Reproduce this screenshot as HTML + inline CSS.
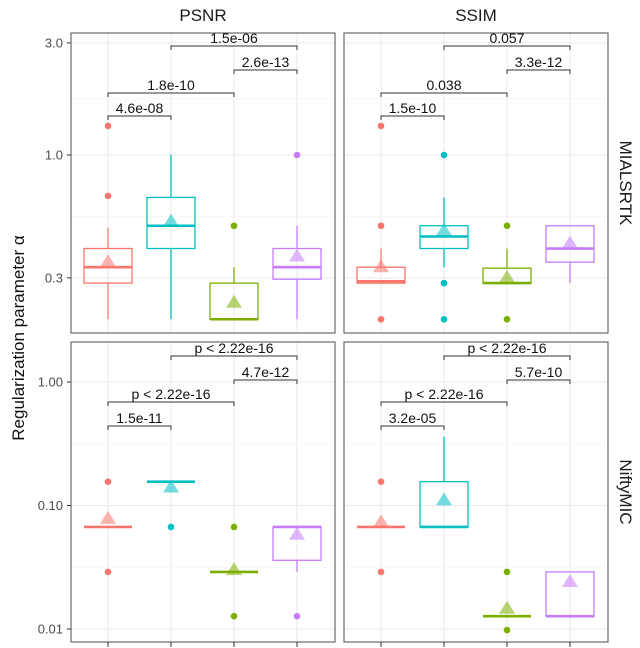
<!DOCTYPE html>
<html><head><meta charset="utf-8"><style>
html,body{margin:0;padding:0;background:#fff;}
svg{display:block;font-family:"Liberation Sans",sans-serif;}
</style></head><body>
<svg id="chart" width="640" height="648" viewBox="0 0 640 648"></svg>
<script>
const groups = ["g1","g2","g3","g4"];
const colors = ["#F8766D","#00BFC4","#7CAE00","#C77CFF"];
const metrics = ["PSNR","SSIM"];
const methods = ["MIALSRTK","NiftyMIC"];
const topTicks = [3.0,1.0,0.3];
const topTickLabels = ["3.0","1.0","0.3"];
const botTicks = [1.0,0.1,0.01];
const botTickLabels = ["1.00","0.10","0.01"];
// per panel: [lowWhisker, Q1, median, Q3, highWhisker]
const statsMP = [[0.2,0.285,0.333,0.4,0.49],[0.2,0.4,0.5,0.66,1.0],[0.2,0.2,0.2,0.285,0.333],[0.2,0.296,0.333,0.4,0.5]];
const meansMP = [0.35,0.52,0.235,0.37];
const outMP = [[0.67,1.33],[],[0.5],[1.0]];
const statsMS = [[0.285,0.285,0.29,0.333,0.4],[0.333,0.4,0.45,0.5,0.66],[0.285,0.285,0.285,0.33,0.4],[0.285,0.35,0.4,0.5,0.5]];
const meansMS = [0.333,0.475,0.3,0.42];
const outMS = [[0.2,0.5,1.33],[0.2,0.285,1.0],[0.2,0.5],[]];
const statsNP = [[0.067,0.067,0.067,0.067,0.067],[0.156,0.156,0.156,0.156,0.156],[0.029,0.029,0.029,0.029,0.029],[0.029,0.036,0.067,0.067,0.067]];
const meansNP = [0.078,0.14,0.03,0.058];
const outNP = [[0.029,0.156],[0.067],[0.0127,0.067],[0.0127]];
const statsNS = [[0.067,0.067,0.067,0.067,0.067],[0.067,0.067,0.067,0.156,0.36],[0.0127,0.0127,0.0127,0.0127,0.0127],[0.0127,0.0127,0.0127,0.029,0.029]];
const meansNS = [0.073,0.11,0.0146,0.024];
const outNS = [[0.029,0.156],[],[0.0098,0.029],[]];
const pMP = ["4.6e-08","1.8e-10","2.6e-13","1.5e-06"];
const pMS = ["1.5e-10","0.038","3.3e-12","0.057"];
const pNP = ["1.5e-11","p < 2.22e-16","4.7e-12","p < 2.22e-16"];
const pNS = ["3.2e-05","p < 2.22e-16","5.7e-10","p < 2.22e-16"];
const pairs = [[0,1],[0,2],[2,3],[1,3]];

const NS="http://www.w3.org/2000/svg";
const svg=document.getElementById('chart');
function mk(tag,attrs,parent){const e=document.createElementNS(NS,tag);for(const k in attrs)e.setAttribute(k,attrs[k]);(parent||svg).appendChild(e);return e;}

const panelX=[71,344], panelW=264;
const panelY=[33,342], panelH=300;
const rowScale=[
 v=>155-235*Math.log10(v),
 v=>382-123.5*(Math.log10(v)-0)
];
const bracketY=[[116,93,70,46],[426,402,380,356]];
const data=[[ [statsMP,meansMP,outMP,pMP],[statsMS,meansMS,outMS,pMS] ],[ [statsNP,meansNP,outNP,pNP],[statsNS,meansNS,outNS,pNS] ]];
const xPos=(c,i)=>panelX[c]+37+63*i;

for(let r=0;r<2;r++){
 const y=rowScale[r];
 const ticks=r===0?topTicks:botTicks, tl=r===0?topTickLabels:botTickLabels;
 ticks.forEach((t,k)=>{
  const tx=mk('text',{x:63,y:y(t)+4.5,'text-anchor':'end','font-size':13,fill:'#4d4d4d'});
  tx.textContent=tl[k];
  
  
  mk('line',{x1:67,x2:71,y1:y(t),y2:y(t),stroke:'#333','stroke-width':1});
 });
 for(let c=0;c<2;c++){
  const g=mk('g',{});
  
  
  const x0=panelX[c], y0=panelY[r];
  mk('rect',{x:x0,y:y0,width:panelW,height:panelH,fill:'#fff'},g);
  for(let k=0;k<ticks.length;k++){
   const yy=y(ticks[k]);
   mk('line',{x1:x0,x2:x0+panelW,y1:yy,y2:yy,stroke:'#ebebeb','stroke-width':1.1},g);
   if(k<ticks.length-1){const ym=(yy+y(ticks[k+1]))/2;mk('line',{x1:x0,x2:x0+panelW,y1:ym,y2:ym,stroke:'#f3f3f3','stroke-width':0.6},g);}
  }
  for(let i=0;i<4;i++){const xx=xPos(c,i);mk('line',{x1:xx,x2:xx,y1:y0,y2:y0+panelH,stroke:'#ebebeb','stroke-width':1.1},g);}
  const [st,mn,out,pv]=data[r][c];
  for(let i=0;i<4;i++){
   const xx=xPos(c,i), col=colors[i], s=st[i], hw=24;
   const bg=mk('g',{},g);
   
   
   mk('line',{x1:xx,x2:xx,y1:y(s[0]),y2:y(s[1]),stroke:col,'stroke-width':1.3},bg);
   mk('line',{x1:xx,x2:xx,y1:y(s[3]),y2:y(s[4]),stroke:col,'stroke-width':1.3},bg);
   mk('rect',{x:xx-hw,y:y(s[3]),width:2*hw,height:Math.max(0,y(s[1])-y(s[3])),fill:'none',stroke:col,'stroke-width':1.3},bg);
   mk('line',{x1:xx-hw,x2:xx+hw,y1:y(s[2]),y2:y(s[2]),stroke:col,'stroke-width':2.6},bg);
   out[i].forEach(o=>{const ci=mk('circle',{cx:xx,cy:y(o),r:3.3,fill:col},bg);
    });
   const my=y(mn[i]);
   const tri=mk('polygon',{points:`${xx},${my-8} ${xx-8},${my+5} ${xx+8},${my+5}`,fill:col,'fill-opacity':0.55},bg);
   
   
  }
  pairs.forEach((p,k)=>{
   const a=xPos(c,p[0]), b=xPos(c,p[1]), by=bracketY[r][k];
   const bg=mk('g',{},g);
   
   
   mk('path',{d:`M${a},${by+4}V${by}H${b}V${by+4}`,fill:'none',stroke:'#333','stroke-width':1},bg);
   const t=mk('text',{x:(a+b)/2,y:by-3,'text-anchor':'middle','font-size':14,fill:'#111'},bg);
   t.textContent=pv[k];
  });
  mk('rect',{x:x0,y:y0,width:panelW,height:panelH,fill:'none',stroke:'#4d4d4d','stroke-width':1},g);
  if(r===1){for(let i=0;i<4;i++){const xx=xPos(c,i);mk('line',{x1:xx,x2:xx,y1:y0+panelH,y2:y0+panelH+5,stroke:'#333','stroke-width':1});}}
 }
}
metrics.forEach((m,c)=>{const t=mk('text',{x:panelX[c]+panelW/2,y:21,'text-anchor':'middle','font-size':17,fill:'#1a1a1a'});t.textContent=m;
 });
methods.forEach((m,r)=>{const cy=panelY[r]+panelH/2;const t=mk('text',{x:620,y:cy,'text-anchor':'middle','font-size':17,fill:'#1a1a1a',transform:`rotate(90 620 ${cy})`});t.textContent=m;
 });
const yt=mk('text',{x:24,y:338,'text-anchor':'middle','font-size':17,fill:'#111',transform:'rotate(-90 24 338)'});
yt.textContent='Regularization parameter α';


</script>
</body></html>
